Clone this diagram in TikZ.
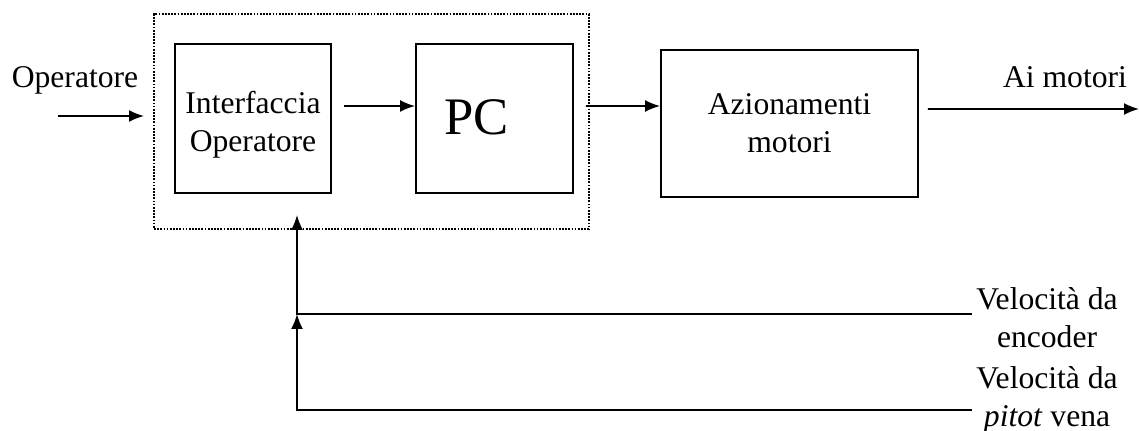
\documentclass[tikz,border=0pt]{standalone}
\usepackage{fontspec}
\setmainfont{Liberation Serif}
\usepackage{tikz}
\usetikzlibrary{positioning,calc,arrows.meta}

\tikzset{
  blk/.style={draw, line width=1.1pt, minimum height=2.98cm, align=center, inner sep=0pt},
  lbl/.style={align=center, inner sep=0pt, font=\fontsize{18}{21.5}\selectfont},
  sig/.style={line width=1pt, -{Latex[length=3mm,width=2.4mm]}}
}

\begin{document}
\begin{tikzpicture}[x=0.02cm, y=-0.02cm]
        \useasboundingbox (0,0) rectangle (1139,431);
        \node[draw, dash pattern=on 1pt off 0.8pt, line width=1pt, minimum width=8.7cm, minimum height=4.3cm] (ctrl) at (371.5,121.5) {};
        \node[blk, minimum width=3.12cm] (iface) at (253,118.5) {};
        \node[lbl] (iftxt) at ([yshift=-0.12cm]iface.center) {Interfaccia\\Operatore};
        \node[blk, minimum width=3.14cm] (pc) at (494.5,118.5) {};
        \node[lbl, font=\fontsize{30}{34}\selectfont] (pctxt) at ([shift={(-0.36cm,0.02cm)}]pc.center) {PC};
        \node[blk, lbl, minimum width=5.14cm, minimum height=2.94cm] (az) at (789.5,123.5) {Azionamenti\\motori};

        \node[lbl] (op) at (75,80) {Operatore};
        \node[lbl] (ai) at (1065,77) {Ai motori};
        \node[lbl, anchor=west] (venc) at (976,318) {Velocità da\\encoder};
        \node[lbl, anchor=west] (vpit) at (976,400) {Velocità da\\\textit{pitot} vena};

        \coordinate (opin) at (58,116);
        \coordinate (opout) at (144,116);
        \coordinate (out) at (1139,109);
        \coordinate (enc) at (972,314);
        \coordinate (pit) at (972,410);
        \coordinate (fbk) at (297,410);
        \coordinate (fbj) at (297,314);
        \coordinate (fbt) at (297,215);

        \draw[sig] (opin) -- (opout);
        \draw[sig] ([shift={(0.24cm,0.25cm)}]iface.east) -- ([yshift=0.25cm]pc.west);
        \draw[sig] ([shift={(0.24cm,0.25cm)}]pc.east) -- ([yshift=0.35cm]az.west);
        \draw[sig] ([shift={(0.18cm,0.29cm)}]az.east) -- (out);
        \draw[sig] (pit) -- (fbk) -- (fbj);
        \draw[sig] (enc) -- (fbj) -- (fbt);
    \end{tikzpicture}
\end{document}
